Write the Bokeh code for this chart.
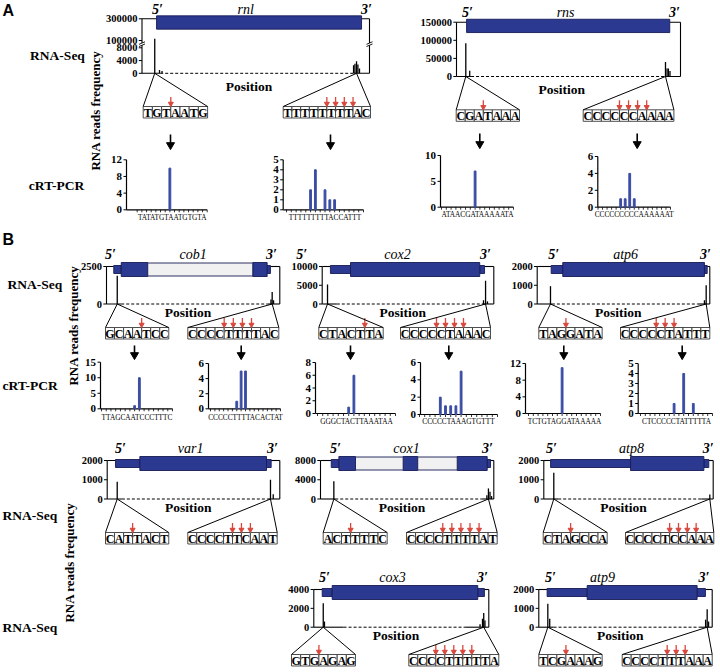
import numpy as np
from bokeh.plotting import figure
from bokeh.models import Range1d
from bokeh.embed import file_html
from bokeh.resources import INLINE
from bokeh.core.properties import value

# ===================== DATA =====================
# RNA-Seq: read-end peaks, position along the gene frame (% of frame) and read counts
rnl_peak_pos = [5.6, 7.7, 8.8, 93.0, 93.6, 94.3, 94.9, 95.6]
rnl_peak_reads = [115000, 1000, 700, 2500, 3000, 3800, 2800, 1500]
rnl_yticks = [0, 4000, 8000, 100000, 300000]
rnl_parts = [("cds", 6.4, 96.5)]
rnl_seq5, rnl_cut5 = "TGTAATG", [3]
rnl_seq3, rnl_cut3 = "TTTTTTTTAC", [5, 6, 7, 8]

rns_peak_pos = [4.15, 5.9, 93.3, 94.0, 94.6, 95.3]
rns_peak_reads = [92000, 16000, 40000, 22000, 22000, 15000]
rns_yticks = [0, 50000, 100000, 150000]
rns_parts = [("cds", 4.5, 95.2)]
rns_seq5, rns_cut5 = "CGATAAA", [3]
rns_seq3, rns_cut3 = "CCCCCCAAAA", [4, 5, 6, 7]

cob1_peak_pos = [6.2, 94.9, 95.6, 96.4]
cob1_peak_reads = [1880, 300, 800, 250]
cob1_yticks = [0, 2500]
cob1_parts = [("utr", 4.2, 8.5), ("cds", 8.5, 23.8), ("intron", 23.8, 84.4),
              ("cds", 84.4, 92.7), ("utr", 92.7, 94.6)]
cob1_seq5, cob1_cut5 = "GCAATCC", [4]
cob1_seq3, cob1_cut3 = "CCCCTTTTAC", [4, 5, 6, 7]

cox2_peak_pos = [3.1, 94.0, 95.2, 96.3]
cox2_peak_reads = [5200, 1000, 6200, 700]
cox2_yticks = [0, 5000, 10000]
cox2_parts = [("utr", 4.8, 16.5), ("cds", 16.5, 91.8), ("utr", 91.8, 94.6)]
cox2_seq5, cox2_cut5 = "CTACTTA", [5]
cox2_seq3, cox2_cut3 = "CCCCCTAAAC", [4, 5, 6, 7]

atp6_peak_pos = [7.7, 96.9, 97.9]
atp6_peak_reads = [950, 200, 1000]
atp6_yticks = [0, 1000, 2000]
atp6_parts = [("utr", 8.1, 14.8), ("cds", 14.8, 96.9), ("utr", 96.9, 98.5)]
atp6_seq5, atp6_cut5 = "TAGGATA", [3]
atp6_seq3, atp6_cut3 = "CCCCCTATTT", [4, 5, 6]

var1_peak_pos = [5.8, 94.6, 96.2]
var1_peak_reads = [900, 1000, 250]
var1_yticks = [0, 1000, 2000]
var1_parts = [("utr", 4.8, 18.9), ("cds", 18.9, 92.3), ("utr", 92.3, 95.0)]
var1_seq5, var1_cut5 = "CATTACT", [3]
var1_seq3, var1_cut3 = "CCCCTTCAAT", [5, 6, 7]

cox1_peak_pos = [7.7, 96.0, 96.9, 97.8, 98.7]
cox1_peak_reads = [3700, 800, 2200, 1500, 600]
cox1_yticks = [0, 4000, 8000]
cox1_parts = [("utr", 6.2, 10.6), ("cds", 10.6, 20.2), ("intron", 20.2, 47.7),
              ("cds", 47.7, 56.1), ("intron", 56.1, 78.9), ("cds", 78.9, 96.2),
              ("utr", 96.2, 98.1)]
cox1_seq5, cox1_cut5 = "ACTTTTC", [3]
cox1_seq3, cox1_cut3 = "CCCCTTTTAT", [4, 5, 6, 7, 8]

atp8_peak_pos = [5.9, 98.0]
atp8_peak_reads = [1370, 230]
atp8_yticks = [0, 1000, 2000]
atp8_parts = [("utr", 4.0, 51.2), ("cds", 51.2, 94.5), ("utr", 94.5, 97.4)]
atp8_seq5, atp8_cut5 = "CTAGCCA", [3]
atp8_seq3, atp8_cut3 = "CCCCTCCAAA", [5, 6, 7, 8]

cox3_peak_pos = [5.4, 6.1, 95.0, 96.4, 97.1, 97.8]
cox3_peak_reads = [2550, 600, 300, 900, 1500, 700]
cox3_yticks = [0, 2000, 4000]
cox3_parts = [("utr", 4.8, 10.5), ("cds", 10.5, 93.7), ("utr", 93.7, 97.5)]
cox3_seq5, cox3_cut5 = "GTGAGAG", [3]
cox3_seq3, cox3_cut3 = "CCCCTTTTTA", [3, 4, 5, 6, 7]

atp9_peak_pos = [5.2, 6.3, 96.2, 97.1, 97.9]
atp9_peak_reads = [1250, 450, 400, 950, 300]
atp9_yticks = [0, 1000, 2000]
atp9_parts = [("utr", 4.8, 27.9), ("cds", 27.9, 91.3), ("utr", 91.3, 96.1)]
atp9_seq5, atp9_cut5 = "TCGAAAG", [3]
atp9_seq3, atp9_cut3 = "CCCCTTTAAA", [5, 6, 7]

# cRT-PCR: sequence under the x axis, bar positions (boundary index) and clone counts
rnl5_crt_seq, rnl5_crt_pos, rnl5_crt_n, rnl5_crt_yticks = "TATATGTAATGTGTA", [7], [10], [0, 4, 8, 12]
rnl3_crt_seq, rnl3_crt_pos, rnl3_crt_n, rnl3_crt_yticks = "TTTTTTTTTACCATTT", [5, 6, 8, 9, 10], [2, 4, 2, 1, 1], [0, 1, 2, 3, 4, 5]
rns5_crt_seq, rns5_crt_pos, rns5_crt_n, rns5_crt_yticks = "ATAACGATAAAAATA", [7], [7], [0, 5, 10]
rns3_crt_seq, rns3_crt_pos, rns3_crt_n, rns3_crt_yticks = "CCCCCCCCCAAAAAAT", [5, 6, 7, 8], [1, 1, 4, 1], [0, 2, 4, 6]
cob15_crt_seq, cob15_crt_pos, cob15_crt_n, cob15_crt_yticks = "TTAGCAATCCCTTTC", [7, 8], [1, 10], [0, 5, 10, 15]
cob13_crt_seq, cob13_crt_pos, cob13_crt_n, cob13_crt_yticks = "CCCCCTTTTACACTAT", [6, 7, 8], [1, 5, 5], [0, 2, 4, 6]
cox25_crt_seq, cox25_crt_pos, cox25_crt_n, cox25_crt_yticks = "GGGCTACTTAAATAA", [6, 7], [1, 6], [0, 2, 4, 6, 8]
cox23_crt_seq, cox23_crt_pos, cox23_crt_n, cox23_crt_yticks = "CCCCCTAAAGTGTTT", [4, 5, 6, 7, 8], [2, 1, 1, 1, 5], [0, 2, 4, 6]
atp65_crt_seq, atp65_crt_pos, atp65_crt_n, atp65_crt_yticks = "TCTGTAGGATAAAAA", [7], [11], [0, 4, 8, 12]
atp63_crt_seq, atp63_crt_pos, atp63_crt_n, atp63_crt_yticks = "CTCCCCCTATTTTTA", [7, 9, 11], [1, 4, 1], [0, 1, 2, 3, 4, 5]

# ===================== STYLE / LAYOUT =====================
BLUE = "#2B3990"
EDGE = "#161B55"
INTRON = "#F1F1F1"
CRT_BLUE = "#3B4CA3"
RED = "#D9473C"
SERIF = "Liberation Serif, Times New Roman, serif"
SANS = "Liberation Sans, Arial, sans-serif"

W, H = 720, 672
FX0, FX1, FY0, FY1 = 0.0, float(W), float(H), 0.0

p = figure(width=W, height=H, x_range=Range1d(FX0, FX1), y_range=Range1d(FY0, FY1),
           output_backend="svg", toolbar_location=None, min_border=0,
           x_axis_location=None, y_axis_location=None, outline_line_color=None,
           background_fill_color="white", border_fill_color="white")
p.grid.visible = False

xranges, yranges = {}, {}


def make_x(name, d0, d1, p0, p1):
    k = (d1 - d0) / (p1 - p0)
    xranges[name] = Range1d(d0 + (FX0 - p0) * k, d0 + (FX1 - p0) * k)


def make_y(name, v0, v1, p0, p1):
    k = (v1 - v0) / (p1 - p0)
    yranges[name] = Range1d(v0 + (FY0 - p0) * k, v0 + (FY1 - p0) * k)


def txt(x, y, s, size, style="bold", align="center", baseline="middle", font=SERIF,
        color="black", angle=0.0, xr="default", yr="default"):
    xs = x if isinstance(x, list) else [x]
    ys = y if isinstance(y, list) else [y]
    ss = s if isinstance(s, list) else [s]
    p.text(x=xs, y=ys, text=ss, text_font=value(font), text_font_size=f"{size}px",
           text_font_style=style, text_align=align, text_baseline=baseline,
           text_color=color, angle=angle, x_range_name=xr, y_range_name=yr)


def seg(x0, y0, x1, y1, xr="default", yr="default", color="black", width=1.0, dash="solid"):
    p.segment(x0=list(x0), y0=list(y0), x1=list(x1), y1=list(y1), line_color=color,
              line_width=width, line_dash=dash, x_range_name=xr, y_range_name=yr)


def black_arrow(x, ya, yb):
    seg([x], [ya], [x], [yb - 5], width=1.6)
    p.scatter(x=[x], y=[yb - 3.5], marker="inverted_triangle", size=8, color="black")


def seq_boxes(seq, cuts, x0, w, ytop, h=11.5):
    n = len(seq)
    lefts = [x0 + i * w for i in range(n)]
    p.quad(left=lefts, right=[l + w for l in lefts], top=[ytop] * n, bottom=[ytop + h] * n,
           fill_color="white", line_color="#3a3a3a", line_width=0.9)
    txt([l + w / 2 for l in lefts], [ytop + h / 2 + 0.6] * n, list(seq), 12, "bold")
    ax_ = [x0 + c * w for c in cuts]
    m = len(ax_)
    seg(ax_, [ytop - 9.5] * m, ax_, [ytop - 3.5] * m, color=RED, width=1.3)
    p.scatter(x=ax_, y=[ytop - 2.8] * m, marker="inverted_triangle", size=5, color=RED)
    return x0, x0 + n * w


def draw_rnaseq(name, pos, reads, yticks, parts, seq5, cut5, seq3, cut3, L):
    ax, xr, yt, y0 = L["ax"], L["xr"], L["yt"], L["y0"]
    span = xr - ax
    ppx = 100.0 / span
    xn, yn = name + "_x", name + "_y"
    make_x(xn, 0.0, 100.0, ax, xr)
    brk = L.get("brk")
    if brk:
        ppr = (y0 - brk["p_lo"]) / brk["lo"]

        def disp(v):
            if v <= brk["lo"]:
                return v
            pix = brk["p_hi0"] - (v - brk["hi0"]) / (brk["hi1"] - brk["hi0"]) * (brk["p_hi0"] - yt)
            return (y0 - pix) / ppr
    else:
        def disp(v):
            return v
    top = disp(yticks[-1])
    make_y(yn, 0.0, top, y0, yt)

    first, last = parts[0][1], parts[-1][2]
    s1, s2 = L.get("solid", (8.5, 93.0))
    seg([0, 0, last, 100, 0, s2], [0, top, top, top, 0, 0],
        [0, first, 100, 100, s1, 100], [top, top, top, 0, 0, 0], xr=xn, yr=yn, width=1.1)
    seg([s1], [0], [s2], [0], xr=xn, yr=yn, width=1.0, dash="3 2")
    tv = [disp(v) for v in yticks]
    m = len(tv)
    seg([-3.2 * ppx] * m, tv, [0] * m, tv, xr=xn, yr=yn, width=1.0)
    txt([-4.5 * ppx] * m, tv, [str(v) for v in yticks], 10.5, "bold", align="right",
        xr=xn, yr=yn)
    if brk:
        yb = (brk["p_lo"] + brk["p_hi0"]) / 2.0
        for xx in (ax, xr):
            p.quad(left=[xx - 2], right=[xx + 2], top=[yb - 1.2], bottom=[yb + 1.2],
                   fill_color="white", line_color=None)
            seg([xx - 3, xx - 3], [yb + 2.4, yb + 0.2], [xx + 3, xx + 3], [yb - 0.2, yb - 2.4],
                width=0.9)

    # gene structure
    cy = yt + L.get("bar_dy", 3.0)
    half = {"cds": L.get("cds_h", 14.0) / 2, "utr": 4.0, "intron": 6.5}
    for kind, fill in (("utr", BLUE), ("cds", BLUE), ("intron", INTRON)):
        segs = [q for q in parts if q[0] == kind]
        if not segs:
            continue
        k = len(segs)
        p.quad(left=[q[1] for q in segs], right=[q[2] for q in segs],
               top=[cy - half[kind]] * k, bottom=[cy + half[kind]] * k,
               fill_color=fill, line_color=EDGE, line_width=0.9, x_range_name=xn)

    # read peaks
    n = len(pos)
    seg(pos, [0] * n, pos, [disp(v) for v in reads], xr=xn, yr=yn, width=1.3)

    # labels
    ly = yt + L.get("lab_dy", -12.0)
    txt(L["g5"], ly, "5\u2032", 14, "bold italic", xr=xn)
    txt(L["g3"], ly, "3\u2032", 14, "bold italic", xr=xn)
    txt(L["gname"], ly, name, 14, "italic", xr=xn)
    txt(47.0, y0 + L.get("pos_dy", 8.5), "Position", 13.5, "bold", xr=xn)

    # zoomed sequences and fans
    to_px = lambda q: ax + q * span / 100.0
    b5 = seq_boxes(seq5, cut5, *L["s5"])
    b3 = seq_boxes(seq3, cut3, *L["s3"])
    i3 = max([i for i in range(n) if pos[i] > 50], key=lambda i: reads[i])
    f5, f3 = to_px(pos[0]), to_px(pos[i3])
    ytop5, ytop3 = L["s5"][2], L["s3"][2]
    seg([f5, f5, f3, f3], [y0] * 4, [b5[0], b5[1], b3[0], b3[1]],
        [ytop5, ytop5, ytop3, ytop3], width=1.0)
    for (xa, ya, yb) in L.get("arrows", []):
        black_arrow(xa, ya, yb)


def draw_crt(name, seq, kpos, counts, yticks, L):
    n = len(seq)
    lx0, lx1 = L["lx"]
    w = (lx1 - lx0) / n
    pu = 1.0 / w
    ax, yt, y0 = L["ax"], L["yt"], L["y0"]
    xn, yn = name + "_x", name + "_y"
    make_x(xn, 0.0, float(n), lx0, lx1)
    tmax = yticks[-1]
    make_y(yn, 0.0, float(tmax), y0, yt)
    vpp = tmax / (y0 - yt)
    axd = (ax - lx0) * pu
    seg([axd, axd], [0, 0], [axd, n], [tmax, 0], xr=xn, yr=yn, width=1.2)
    m = len(yticks)
    seg([axd - 3 * pu] * m, yticks, [axd] * m, yticks, xr=xn, yr=yn, width=1.0)
    txt([axd - 4.5 * pu] * m, yticks, [str(v) for v in yticks], 11, "bold", align="right",
        xr=xn, yr=yn)
    ks = list(range(0, n + 1))
    seg(ks, [0] * len(ks), ks, [-2.5 * vpp] * len(ks), xr=xn, yr=yn, width=0.8)
    p.vbar(x=kpos, top=counts, bottom=0, width=1.8 * pu, color=CRT_BLUE,
           x_range_name=xn, y_range_name=yn)
    txt(n / 2.0, L["ly"], seq, 7.3, "normal", xr=xn)


BRK = {"lo": 8000, "p_lo": 47.3, "hi0": 100000, "hi1": 300000, "p_hi0": 40.0}
A_STYLE = {"bar_dy": 3.7, "cds_h": 13.3, "lab_dy": -9.5, "pos_dy": 13.0}

rnaseq = [
    ("rnl", rnl_peak_pos, rnl_peak_reads, rnl_yticks, rnl_parts, rnl_seq5, rnl_cut5, rnl_seq3, rnl_cut3,
     dict(A_STYLE, ax=141.5, xr=369, yt=18.3, y0=72.8, brk=BRK, g5=6.8, g3=98.7, gname=45.6,
          solid=(8.0, 93.0), s5=(142.7, 9.2, 106.0), s3=(282.7, 8.73, 106.0),
          arrows=[(170, 134, 148), (330, 134, 148)])),
    ("rns", rns_peak_pos, rns_peak_reads, rns_yticks, rns_parts, rns_seq5, rns_cut5, rns_seq3, rns_cut3,
     dict(A_STYLE, ax=456, xr=680, yt=21.7, y0=76.0, g5=4.9, g3=97.3, gname=48.7,
          solid=(6.5, 93.0), s5=(455.7, 9.04, 109.3), s3=(582.7, 9.07, 109.3),
          arrows=[(479.3, 133, 147), (636.7, 133, 147)])),
    ("cob1", cob1_peak_pos, cob1_peak_reads, cob1_yticks, cob1_parts, cob1_seq5, cob1_cut5, cob1_seq3, cob1_cut3,
     dict(ax=106, xr=279.3, yt=266, y0=303.5, g5=2.3, g3=95.2, gname=50.0,
          s5=(105.0, 9.04, 327.0), s3=(187.3, 9.1, 327.0),
          arrows=[(134, 345, 358), (240.7, 345, 358)])),
    ("cox2", cox2_peak_pos, cox2_peak_reads, cox2_yticks, cox2_parts, cox2_seq5, cox2_cut5, cox2_seq3, cox2_cut3,
     dict(ax=321.7, xr=493.3, yt=266, y0=303.5, g5=-12.0, g3=95.2, gname=43.9,
          s5=(318.3, 9.2, 327.0), s3=(400.0, 9.0, 327.0),
          arrows=[(350, 345, 358), (448.3, 345, 358)])),
    ("atp6", atp6_peak_pos, atp6_peak_reads, atp6_yticks, atp6_parts, atp6_seq5, atp6_cut5, atp6_seq3, atp6_cut3,
     dict(ax=536.7, xr=709.3, yt=266, y0=303.5, g5=9.5, g3=97.5, gname=51.2,
          s5=(538.3, 9.05, 327.0), s3=(620.0, 8.93, 327.0),
          arrows=[(563.3, 345, 358), (681.7, 345, 358)])),
    ("var1", var1_peak_pos, var1_peak_reads, var1_yticks, var1_parts, var1_seq5, var1_cut5, var1_seq3, var1_cut3,
     dict(ax=106.7, xr=279.3, yt=460, y0=498.5, g5=7.7, g3=95.8, gname=48.3,
          s5=(105.0, 9.04, 532.0), s3=(187.3, 8.94, 532.0))),
    ("cox1", cox1_peak_pos, cox1_peak_reads, cox1_yticks, cox1_parts, cox1_seq5, cox1_cut5, cox1_seq3, cox1_cut3,
     dict(ax=320, xr=493.3, yt=460, y0=498.5, g5=8.7, g3=96.4, gname=49.6,
          s5=(322.7, 9.14, 532.0), s3=(406.0, 9.07, 532.0))),
    ("atp8", atp8_peak_pos, atp8_peak_reads, atp8_yticks, atp8_parts, atp8_seq5, atp8_cut5, atp8_seq3, atp8_cut3,
     dict(ax=543.3, xr=712.7, yt=460, y0=498.5, g5=4.5, g3=97.1, gname=51.8,
          s5=(542.7, 9.14, 532.0), s3=(625.0, 8.83, 532.0))),
    ("cox3", cox3_peak_pos, cox3_peak_reads, cox3_yticks, cox3_parts, cox3_seq5, cox3_cut5, cox3_seq3, cox3_cut3,
     dict(ax=313.3, xr=488.3, yt=589, y0=626.7, g5=6.1, g3=96.4, gname=45.0, solid=(17.0, 86.5),
          s5=(291.0, 9.14, 654.0), s3=(408.3, 9.0, 654.0))),
    ("atp9", atp9_peak_pos, atp9_peak_reads, atp9_yticks, atp9_parts, atp9_seq5, atp9_cut5, atp9_seq3, atp9_cut3,
     dict(ax=538.3, xr=711.7, yt=589, y0=626.7, g5=6.7, g3=95.2, gname=36.7,
          s5=(538.3, 9.05, 654.0), s3=(621.7, 9.0, 654.0))),
]

crts = [
    ("rnl5", rnl5_crt_seq, rnl5_crt_pos, rnl5_crt_n, rnl5_crt_yticks,
     dict(ax=126, lx=(136.7, 206.7), yt=159.3, y0=209.3, ly=216.5)),
    ("rnl3", rnl3_crt_seq, rnl3_crt_pos, rnl3_crt_n, rnl3_crt_yticks,
     dict(ax=282.7, lx=(286.0, 363.0), yt=159.3, y0=209.3, ly=216.5)),
    ("rns5", rns5_crt_seq, rns5_crt_pos, rns5_crt_n, rns5_crt_yticks,
     dict(ax=440, lx=(441.0, 513.0), yt=155.0, y0=206.7, ly=214.0)),
    ("rns3", rns3_crt_seq, rns3_crt_pos, rns3_crt_n, rns3_crt_yticks,
     dict(ax=597.3, lx=(597.5, 670.0), yt=156.0, y0=206.7, ly=214.0)),
    ("cob15", cob15_crt_seq, cob15_crt_pos, cob15_crt_n, cob15_crt_yticks,
     dict(ax=100, lx=(101.0, 172.0), yt=361.7, y0=408.3, ly=417.0)),
    ("cob13", cob13_crt_seq, cob13_crt_pos, cob13_crt_n, cob13_crt_yticks,
     dict(ax=208, lx=(210.0, 280.0), yt=363.0, y0=408.3, ly=417.0)),
    ("cox25", cox25_crt_seq, cox25_crt_pos, cox25_crt_n, cox25_crt_yticks,
     dict(ax=315, lx=(317.0, 395.0), yt=362.0, y0=413.0, ly=421.0)),
    ("cox23", cox23_crt_seq, cox23_crt_pos, cox23_crt_n, cox23_crt_yticks,
     dict(ax=420, lx=(419.0, 497.0), yt=362.0, y0=414.0, ly=421.0)),
    ("atp65", atp65_crt_seq, atp65_crt_pos, atp65_crt_n, atp65_crt_yticks,
     dict(ax=525, lx=(528.0, 600.0), yt=363.0, y0=413.0, ly=421.0)),
    ("atp63", atp63_crt_seq, atp63_crt_pos, atp63_crt_n, atp63_crt_yticks,
     dict(ax=637.7, lx=(640.0, 712.0), yt=363.0, y0=413.0, ly=421.0)),
]

for args in rnaseq:
    draw_rnaseq(*args)
for args in crts:
    draw_crt(*args)

# panel letters and row labels
txt(2, 10, "A", 16, "bold", align="left", font=SANS)
txt(2, 239, "B", 16, "bold", align="left", font=SANS)
txt(57, 55, "RNA-Seq", 13.5, "bold")
txt(56, 185, "cRT-PCR", 13.5, "bold")
txt(95, 110, "RNA reads frequency", 13, "bold", angle=np.pi / 2)
txt(7, 284, "RNA-Seq", 13.5, "bold", align="left")
txt(2, 385, "cRT-PCR", 13.5, "bold", align="left")
txt(73, 325, "RNA reads frequency", 13, "bold", angle=np.pi / 2)
txt(2, 515, "RNA-Seq", 13.5, "bold", align="left")
txt(2, 627, "RNA-Seq", 13.5, "bold", align="left")
txt(69, 562, "RNA reads frequency", 13, "bold", angle=np.pi / 2)

p.extra_x_ranges = xranges
p.extra_y_ranges = yranges

open("out.html", "w").write(file_html(p, INLINE))
